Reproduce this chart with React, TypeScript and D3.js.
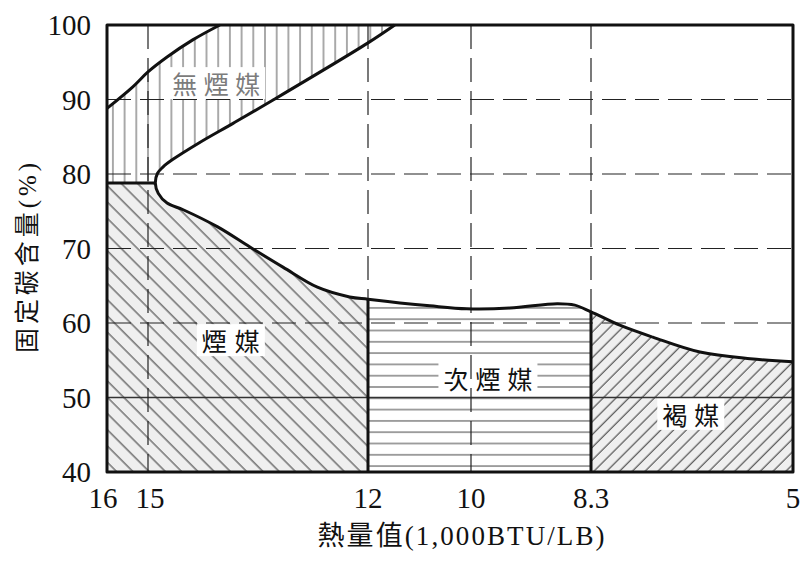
import React from 'react';
import * as d3 from 'd3';

// ---- data ----
const xTicks = [16, 15, 12, 10, 8.3, 5];
const xTickLabels = ['16', '15', '12', '10', '8.3', '5'];
const yTicks = [100, 90, 80, 70, 60, 50, 40];
const dashedY = [90, 80, 70, 60];
const solidY = [50];
const dashedX = [15, 12, 10, 8.3];

// 無煙媒 upper boundary (heat value, fixed carbon %)
const anthraciteUpper: [number, number][] = [
  [16, 88.8], [15.37, 91.7], [15, 93.7], [14.74, 95.7], [14.39, 98.0], [14.02, 100],
];
// 無煙媒 lower boundary, top to the "nose"
const anthraciteLower: [number, number][] = [
  [11.48, 100], [12.0, 97.6], [13.3, 89.9], [13.84, 86.8], [14.3, 84.2],
  [14.67, 81.9], [14.8, 80.9], [14.87, 80.1], [14.9, 78.8],
];
// 煙媒 upper boundary
const bituminousUpper: [number, number][] = [
  [14.9, 78.8], [14.86, 77.4], [14.74, 76.1], [14.52, 75.2], [14.05, 72.9],
  [13.61, 70.2], [13.16, 67.5], [12.69, 64.8], [12.25, 63.5], [12, 63.2],
];
// 次煙媒 upper boundary
const subbituminousUpper: [number, number][] = [
  [12, 63.2], [11.38, 62.7], [10.8, 62.3], [10.08, 61.9], [9.45, 62.0],
  [8.78, 62.6], [8.53, 62.4], [8.3, 61.5],
];
// 褐媒 upper boundary
const ligniteUpper: [number, number][] = [
  [8.3, 61.5], [7.83, 59.7], [7.29, 58.1], [6.52, 56.1], [5.7, 55.2], [5, 54.8],
];
const divideCarbon = 78.8;
const classBounds = [16, 12, 8.3, 5];

const labelTexts = ['無煙媒', '煙媒', '次煙媒', '褐媒'];
const labelHeat = [14.07, 13.87, 9.76, 6.67];
const labelCarbon = [92.2, 57.7, 52.6, 47.8];
const labelColors = ['#7c7c7c', '#111', '#111', '#111'];
const labelWidths = [88, 58, 89, 57];

const W = 810;
const H = 562;

export default function App() {
  const x = d3.scaleLinear().domain(xTicks).range([107, 148, 368, 471, 591, 793]);
  const y = d3.scaleLinear().domain([40, 100]).range([472, 25]);
  const x0 = x(16), x1 = x(5), y0 = y(100), y1 = y(40);

  const line = d3.line<[number, number]>()
    .x((d) => x(d[0]))
    .y((d) => y(d[1]))
    .curve(d3.curveCatmullRom.alpha(0.5));

  const main: [number, number][] = [
    ...anthraciteLower,
    ...bituminousUpper.slice(1),
    ...subbituminousUpper.slice(1),
    ...ligniteUpper.slice(1),
  ];
  const mainPath = line(main) as string;
  const upperPath = line(anthraciteUpper) as string;
  const whiteRight = `${mainPath}L${x1},${y0}Z`;
  const whiteLeft = `${upperPath}L${x0},${y0}Z`;

  const font = "'Liberation Serif', 'Noto Sans CJK TC', serif";
  const cjk = "'Noto Sans CJK TC', 'Liberation Serif', serif";

  const yDiv = y(divideCarbon);

  return (
    <svg width={W} height={H} style={{ position: 'absolute', left: 0, top: 0, background: '#fff' }}>
      <defs>
        <mask id="graded" maskUnits="userSpaceOnUse" x={0} y={0} width={W} height={H}>
          <rect x={0} y={0} width={W} height={H} fill="#fff" />
          <path d={whiteRight} fill="#000" />
          <path d={whiteLeft} fill="#000" />
        </mask>
        <pattern id="pVert" patternUnits="userSpaceOnUse" x={148 - 5.85} y={0} width={11.7} height={20}>
          <line x1={5.85} y1={0} x2={5.85} y2={20} stroke="#555" strokeWidth={1} />
        </pattern>
        <pattern id="pBack" patternUnits="userSpaceOnUse" width={11.5} height={40} patternTransform="rotate(-45)">
          <rect width={11.5} height={40} fill="#efefef" />
          <line x1={2} y1={0} x2={2} y2={40} stroke="#333" strokeWidth={1} />
        </pattern>
        <pattern id="pHoriz" patternUnits="userSpaceOnUse" x={0} y={398.3 - 5.65} width={20} height={11.3}>
          <line x1={0} y1={5.65} x2={20} y2={5.65} stroke="#444" strokeWidth={1} />
        </pattern>
        <pattern id="pFwd" patternUnits="userSpaceOnUse" width={9.05} height={40} patternTransform="rotate(45)">
          <rect width={9.05} height={40} fill="#efefef" />
          <line x1={2} y1={0} x2={2} y2={40} stroke="#333" strokeWidth={1} />
        </pattern>
      </defs>

      {/* class fills */}
      <g mask="url(#graded)">
        <rect x={x0} y={y0} width={x(11) - x0} height={yDiv - y0} fill="url(#pVert)" />
        <rect x={x(classBounds[0])} y={yDiv} width={x(classBounds[1]) - x(classBounds[0])} height={y1 - yDiv} fill="url(#pBack)" />
        <rect x={x(classBounds[1])} y={yDiv} width={x(classBounds[2]) - x(classBounds[1])} height={y1 - yDiv} fill="url(#pHoriz)" />
        <rect x={x(classBounds[2])} y={yDiv} width={x(classBounds[3]) - x(classBounds[2])} height={y1 - yDiv} fill="url(#pFwd)" />
      </g>

      {/* label backgrounds */}
      {labelTexts.map((t, i) => (
        <rect key={`lb${i}`} x={x(labelHeat[i]) - labelWidths[i] / 2 - 5} y={y(labelCarbon[i]) - 16}
          width={labelWidths[i] + 10} height={32} fill="#fff" />
      ))}

      {/* grid */}
      {dashedY.map((v) => (
        <line key={`gy${v}`} x1={x0} x2={x1} y1={y(v)} y2={y(v)} stroke="#222" strokeWidth={1.2} strokeDasharray="24,9" />
      ))}
      {solidY.map((v) => (
        <line key={`sy${v}`} x1={x0} x2={x1} y1={y(v)} y2={y(v)} stroke="#333" strokeWidth={1.3} />
      ))}
      {dashedX.map((v) => (
        <line key={`gx${v}`} x1={x(v)} x2={x(v)} y1={y0} y2={y1} stroke="#222" strokeWidth={1.2} strokeDasharray="24,9" />
      ))}

      {/* labels */}
      {labelTexts.map((t, i) => (
        <text key={`lt${i}`} x={x(labelHeat[i])} y={y(labelCarbon[i])} textAnchor="middle" dominantBaseline="central"
          fontFamily={cjk} fontSize={25} fill={labelColors[i]} textLength={labelWidths[i]} lengthAdjust="spacing">
          {t}
        </text>
      ))}

      {/* boundaries */}
      <g fill="none" stroke="#111" strokeWidth={3} strokeLinejoin="round">
        <path d={mainPath} />
        <path d={upperPath} />
        <line x1={x0} x2={x(anthraciteLower[anthraciteLower.length - 1][0])} y1={yDiv} y2={yDiv} />
        <line x1={x(classBounds[1])} x2={x(classBounds[1])} y1={y1} y2={y(subbituminousUpper[0][1])} />
        <line x1={x(classBounds[2])} x2={x(classBounds[2])} y1={y1} y2={y(ligniteUpper[0][1])} />
        <rect x={x0} y={y0} width={x1 - x0} height={y1 - y0} strokeWidth={3} />
      </g>

      {/* axes labels */}
      {yTicks.map((v) => (
        <text key={`yt${v}`} x={91} y={y(v)} textAnchor="end" dominantBaseline="central"
          fontFamily={font} fontSize={29} fill="#111">{v}</text>
      ))}
      {xTicks.map((v, i) => (
        <text key={`xt${v}`} x={x(v) + (i === 0 ? -4 : i === 1 ? 2 : 0)} y={508} textAnchor="middle"
          fontFamily={font} fontSize={29} fill="#111">{xTickLabels[i]}</text>
      ))}
      <text x={461} y={545} textAnchor="middle" fontFamily={font} fontSize={27} fill="#111"
        textLength={287} lengthAdjust="spacing">熱量值(1,000BTU/LB)</text>
      <text transform="translate(36,258) rotate(-90)" textAnchor="middle" fontFamily={font} fontSize={25} fill="#111"
        textLength={190} lengthAdjust="spacing">固定碳含量(%)</text>
    </svg>
  );
}
